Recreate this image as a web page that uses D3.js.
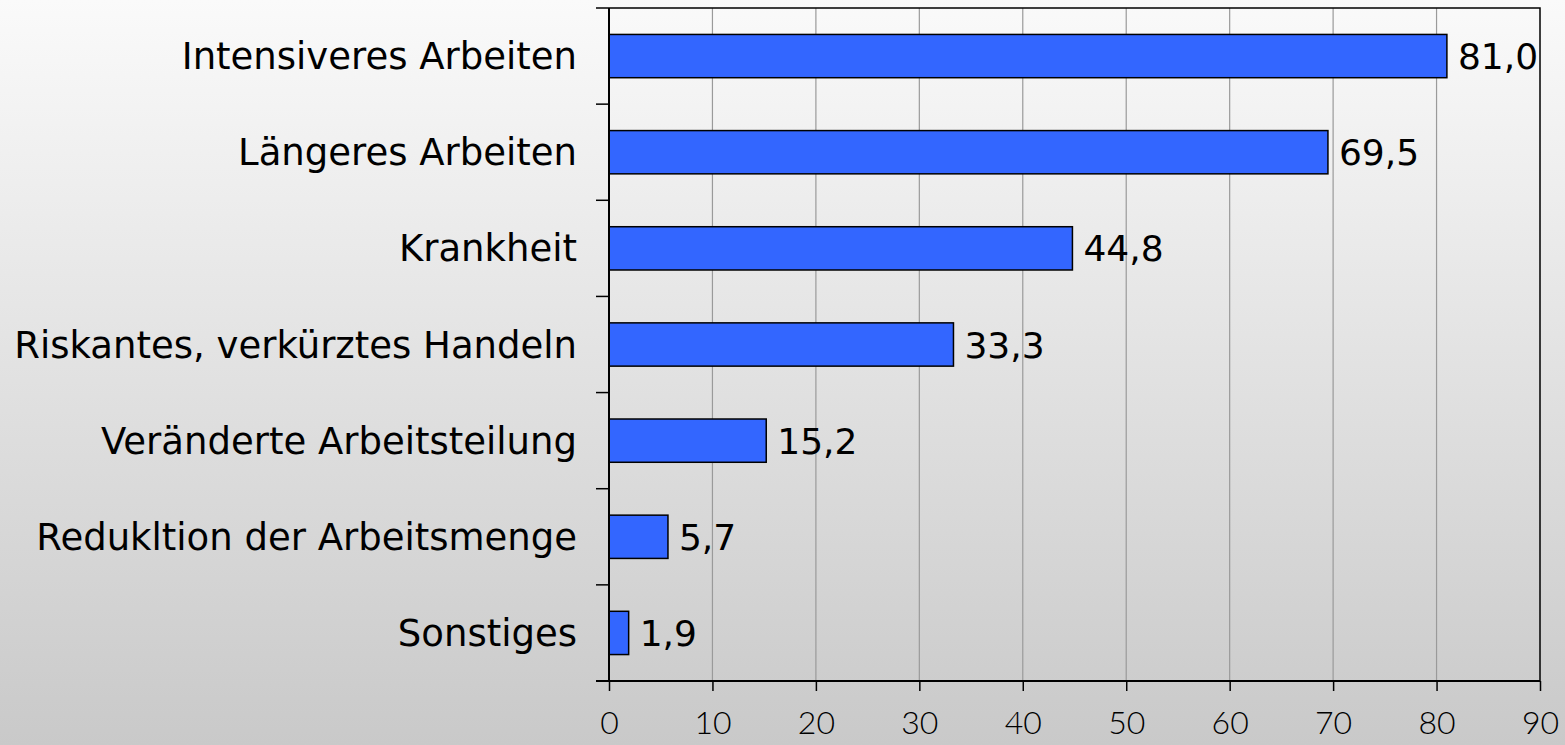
<!DOCTYPE html>
<html>
<head>
<meta charset="utf-8">
<script src="https://cdn.jsdelivr.net/npm/d3@7"></script>
<style>
  body { margin: 0; overflow: hidden; }
  svg { display: block; }
</style>
</head>
<body>
<div id="chart"></div>
<script>
// Daten
var categories = ["Intensiveres Arbeiten", "Längeres Arbeiten", "Krankheit",
  "Riskantes, verkürztes Handeln", "Veränderte Arbeitsteilung",
  "Redukltion der Arbeitsmenge", "Sonstiges"];
var values = [81.0, 69.5, 44.8, 33.3, 15.2, 5.7, 1.9];
var xTicks = [0, 10, 20, 30, 40, 50, 60, 70, 80, 90];

var W = 1565, H = 745;
var plot = {left: 609, right: 1540, top: 8, bottom: 681};

var de = d3.formatLocale({decimal: ",", thousands: ".", grouping: [3], currency: ["", " €"]});
var fmt = de.format(".1f");

var svg = d3.select("#chart").append("svg")
    .attr("width", W)
    .attr("height", H);

// background gradient
var grad = svg.append("defs").append("linearGradient")
    .attr("id", "bg")
    .attr("x1", 0).attr("y1", 0).attr("x2", 0).attr("y2", 1);
grad.append("stop").attr("offset", "0%").attr("stop-color", "#fafafa");
grad.append("stop").attr("offset", "100%").attr("stop-color", "#c9c9c9");

svg.append("rect")
    .attr("width", W).attr("height", H)
    .attr("fill", "url(#bg)");

var x = d3.scaleLinear()
    .domain([0, 90])
    .range([plot.left, plot.right]);

var y = d3.scaleBand()
    .domain(categories)
    .range([plot.top, plot.bottom])
    .paddingInner(0.55)
    .paddingOuter(0.275);

var yTick = d3.scaleBand()
    .domain(categories)
    .range([plot.top, plot.bottom]);

// gridlines
svg.append("g")
  .selectAll("line")
  .data(xTicks.slice(1, -1))
  .join("line")
    .attr("x1", d => x(d)).attr("x2", d => x(d))
    .attr("y1", plot.top).attr("y2", plot.bottom)
    .attr("stroke", "#9a9a9a")
    .attr("stroke-width", 1.2);

// plot border (top + right)
svg.append("path")
    .attr("d", "M" + plot.left + "," + plot.top + "H" + plot.right + "V" + plot.bottom)
    .attr("fill", "none")
    .attr("stroke", "#000")
    .attr("stroke-width", 1.5);

// bars
svg.append("g")
  .selectAll("rect")
  .data(values)
  .join("rect")
    .attr("x", x(0))
    .attr("y", (d, i) => y(categories[i]))
    .attr("width", d => x(d) - x(0))
    .attr("height", y.bandwidth())
    .attr("fill", "#3366ff")
    .attr("stroke", "#000")
    .attr("stroke-width", 1.5);

// value labels
svg.append("g")
  .selectAll("text")
  .data(values)
  .join("text")
    .attr("x", d => x(d) + 11)
    .attr("y", (d, i) => y(categories[i]) + y.bandwidth() / 2 + 13)
    .attr("font-family", "DejaVu Sans")
    .attr("font-size", 36)
    .attr("fill", "#000")
    .text(d => fmt(d));

// category labels
svg.append("g")
  .selectAll("text")
  .data(categories)
  .join("text")
    .attr("x", 577)
    .attr("y", d => y(d) + y.bandwidth() / 2 + 13)
    .attr("text-anchor", "end")
    .attr("font-family", "DejaVu Sans")
    .attr("font-size", 37)
    .attr("fill", "#000")
    .text(d => d);

// y axis line and ticks
var yTickPos = categories.map(d => yTick(d)).concat([plot.bottom]);
svg.append("line")
    .attr("x1", plot.left).attr("x2", plot.left)
    .attr("y1", plot.top).attr("y2", plot.bottom)
    .attr("stroke", "#000").attr("stroke-width", 2);
svg.append("g")
  .selectAll("line")
  .data(yTickPos)
  .join("line")
    .attr("x1", plot.left - 13).attr("x2", plot.left)
    .attr("y1", d => d).attr("y2", d => d)
    .attr("stroke", "#000").attr("stroke-width", 1.5);

// x axis
var xAxis = svg.append("g")
    .attr("transform", "translate(0," + plot.bottom + ")")
    .call(d3.axisBottom(x)
        .tickValues(xTicks)
        .tickSize(10)
        .tickPadding(20)
        .tickFormat(d3.format("d")));
xAxis.select(".domain")
    .attr("stroke-width", 2)
    .attr("d", "M" + (plot.left - 13) + ",0H" + plot.right);
xAxis.selectAll(".tick line").attr("stroke-width", 1.5);
xAxis.selectAll("text")
    .attr("font-family", "Lato")
    .attr("font-weight", 300)
    .attr("font-size", 32)
    .attr("fill", "#000");
</script>
</body>
</html>
